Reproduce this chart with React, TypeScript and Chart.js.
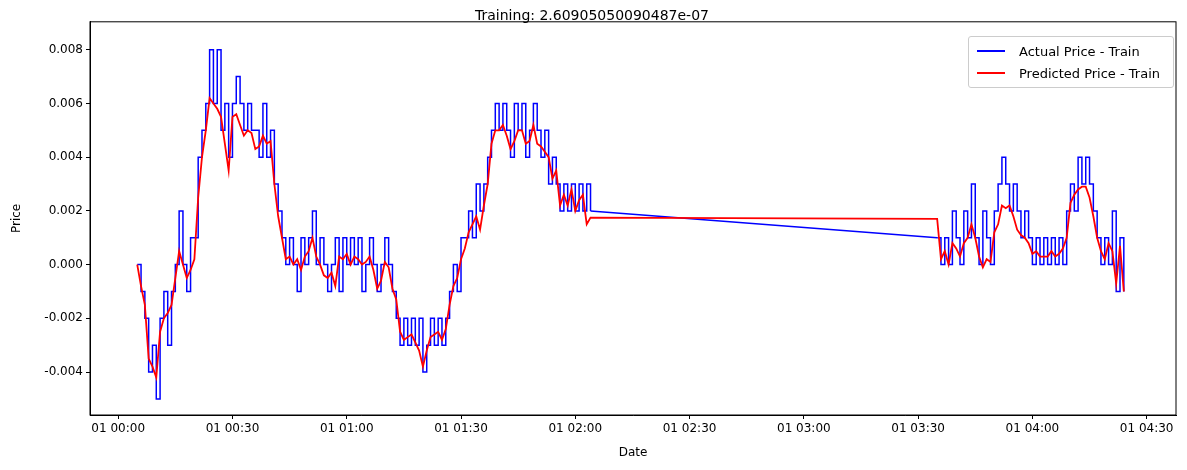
import React, { useEffect, useRef } from "react";
import Chart from "chart.js/auto";

// minutes after 01 00:00, values in units of 0.001
const seg1Start = 5;
const seg2Start = 215;

const actualSeg1 = [
  0, -1, -2, -4, -3, -5, -2, -1, -3, -1, 0, 2, 0, -1, 1, 1, 4, 5, 6, 8, 6, 8, 5, 6,
  4, 6, 7, 6, 5, 6, 5, 5, 4, 6, 4, 5, 3, 2, 1, 0, 1, 0, -1, 1, 0, 1, 2, 0,
  1, 0, -1, 0, 1, -1, 1, 0, 1, 0, 1, -1, 0, 1, 0, -1, 0, 1, 0, -1, -2, -3, -2, -3,
  -2, -3, -2, -4, -3, -2, -3, -2, -3, -2, -1, 0, -1, 1, 1, 2, 1, 3, 2, 3, 4, 5, 6, 5,
  6, 5, 4, 6, 5, 6, 4, 5, 6, 5, 4, 5, 3, 4, 3, 2, 3, 2, 3, 2, 3, 2, 3, 2,
];
const actualSeg2 = [
  1, 0, 1, 0, 2, 1, 0, 2, 1, 3, 1, 0, 2, 1, 0, 2, 3, 4, 3, 2, 3, 2, 1, 2,
  1, 0, 1, 0, 1, 0, 1, 0, 1, 0, 2, 3, 2, 4, 3, 4, 3, 2, 1, 0, 1, 0, 2, -1, 1, -1,
];
const predictedSeg1 = [
  0, -0.8, -1.5, -3.5, -3.8, -4.2, -2.5, -2, -1.8, -1.5,
  -0.5, 0.5, 0, -0.5, -0.2, 0.2, 2.5, 4, 5, 6.2,
  6, 5.8, 5.5, 4.5, 3.5, 5.5, 5.6, 5.2, 4.8, 5,
  4.9, 4.3, 4.4, 4.8, 4.5, 4.6, 3, 1.8, 1, 0.2,
  0.3, 0, 0.2, -0.2, 0.3, 0.5, 1, 0.3, 0, -0.4,
  -0.5, -0.3, -0.8, 0.3, 0.2, 0.4, 0, 0.3, 0.2, 0,
  0.1, 0.3, -0.2, -0.9, -0.6, 0.1, -0.1, -0.9, -1.3, -2.5,
  -2.8, -2.7, -2.6, -2.9, -3.2, -3.8, -3.2, -2.7, -2.6, -2.5,
  -2.8, -2.4, -1.5, -0.8, -0.5, 0.2, 0.6, 1.2, 1.5, 1.8,
  1.3, 2.2, 3, 4.5, 5, 5, 5.2, 4.8, 4.3, 4.6,
  5, 5, 4.5, 4.6, 5.2, 4.5, 4.4, 4.2, 4, 3.2,
  3.5, 2.2, 2.6, 2.2, 2.8, 2, 2.4, 2.6, 1.5, 1.75,
];
const predictedSeg2 = [
  1.7, 0.2, 0.5, 0, 0.8, 0.6, 0.3, 0.8, 1, 1.5,
  1, 0.3, -0.1, 0.2, 0.1, 1.2, 1.5, 2.2, 2.1, 2.2,
  1.8, 1.3, 1.1, 1, 0.8, 0.4, 0.5, 0.3, 0.3, 0.3,
  0.5, 0.3, 0.4, 0.6, 1, 2.3, 2.6, 2.8, 2.9, 2.9,
  2.5, 1.8, 1, 0.5, 0.2, 0.8, 0.5, -0.7, 0.7, -1,
];
const xTicks = [0, 30, 60, 90, 120, 150, 180, 210, 240, 270];
const yTicks = [-4, -2, 0, 2, 4, 6, 8];

const toPoints = (start: number, vals: number[]) => vals.map((y, i) => ({ x: start + i, y }));

const fmtTime = (m: number) => {
  const h = Math.floor(m / 60);
  const mm = m % 60;
  return `01 ${String(h).padStart(2, "0")}:${String(mm).padStart(2, "0")}`;
};

const boxPlugin = {
  id: "box",
  afterDraw(chart: any) {
    const { ctx, chartArea: a } = chart;
    ctx.save();
    ctx.strokeStyle = "#000";
    ctx.lineWidth = 1;
    ctx.strokeRect(a.left, a.top, a.right - a.left, a.bottom - a.top);
    ctx.restore();
  },
};

const App: React.FC = () => {
  const chartRef = useRef<null | HTMLCanvasElement>(null);

  useEffect(() => {
    if (!chartRef.current) return;
    const font = { family: "DejaVu Sans", size: 12 };
    const blue = { borderColor: "#0000ff", borderWidth: 1.5, pointRadius: 0, order: 1 };
    const p1 = toPoints(seg1Start, actualSeg1);
    const p2 = toPoints(seg2Start, actualSeg2);
    const chartInstance = new Chart(chartRef.current, {
      type: "line",
      data: {
        datasets: [
          { label: "Actual Price - Train", data: p1, stepped: "before", ...blue },
          { label: "gap", data: [p1[p1.length - 1], p2[0]], ...blue },
          { label: "Actual 2", data: p2, stepped: "before", ...blue },
          {
            label: "Predicted Price - Train",
            data: [...toPoints(seg1Start, predictedSeg1), ...toPoints(seg2Start, predictedSeg2)],
            borderColor: "#ff0000",
            borderWidth: 1.8,
            pointRadius: 0,
            order: 0,
          },
        ],
      },
      options: {
        animation: false,
        responsive: false,
        layout: { padding: { left: 0, right: 3, top: 0, bottom: 0 } },
        plugins: {
          legend: { display: false },
          tooltip: { enabled: false },
          title: {
            display: true,
            text: "Training: 2.60905050090487e-07",
            color: "#000",
            font: { family: "DejaVu Sans", size: 14, weight: "normal" },
            padding: { top: 0, bottom: -3 },
          },
        },
        scales: {
          x: {
            type: "linear",
            min: -7.4,
            max: 277.7,
            afterBuildTicks: (s: any) => {
              s.ticks = xTicks.map((v) => ({ value: v }));
            },
            afterFit: (s: any) => {
              s.height = 47;
            },
            ticks: { color: "#000", font, maxRotation: 0, callback: (v: any) => fmtTime(Number(v)) },
            grid: { display: true, drawOnChartArea: false, color: "#000", tickLength: 4 },
            border: { color: "#000" },
            title: { display: true, text: "Date", color: "#000", font, padding: 2 },
          },
          y: {
            min: -5.6,
            max: 9.04,
            afterBuildTicks: (s: any) => {
              s.ticks = yTicks.map((v) => ({ value: v }));
            },
            afterFit: (s: any) => {
              s.width = 82;
            },
            ticks: { color: "#000", font, callback: (v: any) => (Number(v) / 1000).toFixed(3) },
            grid: { display: true, drawOnChartArea: false, color: "#000", tickLength: 4 },
            border: { color: "#000" },
            title: { display: true, text: "Price", color: "#000", font, padding: 2 },
          },
        },
      },
      plugins: [boxPlugin],
    } as any);
    return () => {
      chartInstance.destroy();
    };
  }, []);

  const row = (color: string, label: string) => (
    <div style={{ display: "flex", alignItems: "center", height: 22 }}>
      <span style={{ display: "inline-block", width: 28, height: 2, background: color, marginRight: 14 }} />
      <span>{label}</span>
    </div>
  );

  return (
    <div style={{ position: "relative", width: 1171, height: 454 }}>
      <canvas ref={chartRef} width={1171} height={454} />
      <div
        style={{
          position: "absolute",
          left: 960,
          top: 28,
          width: 188,
          padding: "3px 8px",
          border: "1px solid #ccc",
          borderRadius: 3,
          background: "rgba(255,255,255,0.8)",
          fontFamily: "DejaVu Sans",
          fontSize: 13,
          color: "#000",
        }}
      >
        {row("#0000ff", "Actual Price - Train")}
        {row("#ff0000", "Predicted Price - Train")}
      </div>
    </div>
  );
};

export default App;
